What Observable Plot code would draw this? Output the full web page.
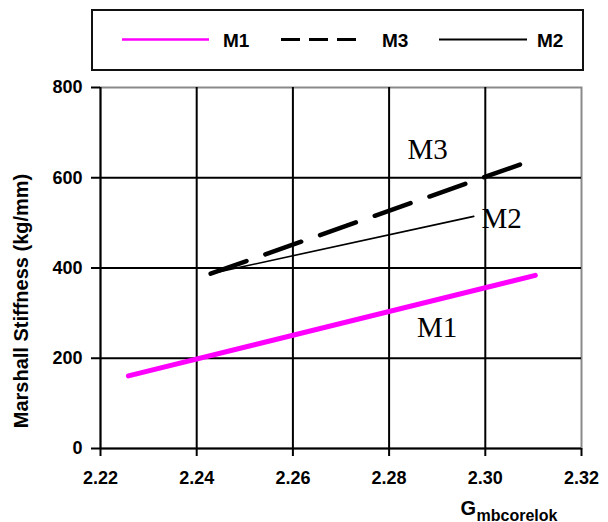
<!DOCTYPE html>
<html>
<head>
<meta charset="utf-8">
<script src="https://cdn.jsdelivr.net/npm/d3@7"></script>
<script src="https://cdn.jsdelivr.net/npm/@observablehq/plot@0.6"></script>
<style>
  html, body { margin: 0; padding: 0; background: #fff; }
  #chart { position: relative; width: 608px; height: 522px; font-family: "Liberation Sans", Arial, sans-serif; }
  #chart > svg.plot { position: absolute; left: 0; top: 0; }
  #legend { position: absolute; left: 0; top: 0; }
</style>
</head>
<body>
<div id="chart"></div>
<script>
// Marshall stiffness versus Gmb (corelok) for three mixes
const mixes = ["M1", "M3", "M2"];
const m1Gmb = [2.2258, 2.3104];
const m1Stiffness = [160.8, 383.7];
const m3Gmb = [2.2429, 2.3073];
const m3Stiffness = [387.5, 629.5];
const m2Gmb = [2.2429, 2.2976];
const m2Stiffness = [387.5, 514.4];

// in-plot series labels (anchor positions in data units)
const labelNames = ["M3", "M2", "M1"];
const labelGmb = [2.2838, 2.2992, 2.2858];
const labelStiffness = [642, 489, 246];

const xTicks = [2.22, 2.24, 2.26, 2.28, 2.30, 2.32];
const yTicks = [0, 200, 400, 600, 800];

const toRows = (name, xs, ys) => xs.map((g, i) => ({mix: name, gmb: g, stiffness: ys[i]}));
const m1 = toRows("M1", m1Gmb, m1Stiffness);
const m3 = toRows("M3", m3Gmb, m3Stiffness);
const m2 = toRows("M2", m2Gmb, m2Stiffness);
const labels = labelNames.map((n, i) => ({name: n, gmb: labelGmb[i], stiffness: labelStiffness[i]}));

const bold = {fontFamily: "Liberation Sans, Arial, sans-serif", fontWeight: "bold"};

const plot = Plot.plot({
  width: 608,
  height: 522,
  marginTop: 87,
  marginBottom: 74,
  marginLeft: 100,
  marginRight: 27,
  style: {background: "transparent", color: "black", fontFamily: "Liberation Sans, Arial, sans-serif"},
  x: {domain: [2.22, 2.32]},
  y: {domain: [0, 800]},
  marks: [
    Plot.frame({stroke: "#8a8a8a", strokeWidth: 2}),
    Plot.gridX(xTicks.slice(1, -1), {stroke: "black", strokeOpacity: 1, strokeWidth: 2}),
    Plot.gridY(yTicks.slice(1, -1), {stroke: "black", strokeOpacity: 1, strokeWidth: 2}),
    Plot.ruleX([xTicks[0]], {stroke: "black", strokeWidth: 2}),
    Plot.ruleY([yTicks[0]], {stroke: "black", strokeWidth: 2}),
    Plot.axisX(xTicks, {
      tickSize: 8, tickPadding: 15, strokeWidth: 2, stroke: "black",
      tickFormat: d3.format(".2f"), fontSize: 18, ...bold, label: null
    }),
    Plot.axisY(yTicks, {
      tickSize: 9, tickPadding: 9, strokeWidth: 2, stroke: "black",
      fontSize: 18, ...bold, label: null
    }),
    Plot.line(m1, {x: "gmb", y: "stiffness", stroke: "#ff00ff", strokeWidth: 5, strokeLinecap: "round"}),
    Plot.line(m2, {x: "gmb", y: "stiffness", stroke: "black", strokeWidth: 1.6}),
    Plot.line(m3, {x: "gmb", y: "stiffness", stroke: "black", strokeWidth: 4.5, strokeDasharray: "38,20"}),
    Plot.text(labels, {
      x: "gmb", y: "stiffness", text: "name", textAnchor: "start", lineAnchor: "bottom",
      fontFamily: "Liberation Serif, Times New Roman, serif", fontSize: 29, fill: "black"
    }),
    // axis titles
    Plot.text(["Marshall Stiffness (kg/mm)"], {
      frameAnchor: "left", rotate: -90, dx: -79, dy: 33,
      textAnchor: "middle", lineAnchor: "middle", fontSize: 20, ...bold, fill: "black"
    }),
    Plot.text(["G"], {
      frameAnchor: "bottom-right", dx: -121, dy: 66,
      textAnchor: "start", lineAnchor: "bottom", fontSize: 20, ...bold, fill: "black"
    }),
    Plot.text(["mbcorelok"], {
      frameAnchor: "bottom-right", dx: -105, dy: 72,
      textAnchor: "start", lineAnchor: "bottom", fontSize: 16, ...bold, fill: "black"
    })
  ]
});
plot.classList.add("plot");
const chart = document.getElementById("chart");
chart.appendChild(plot);

// line-style legend in a framed box above the plot
const legendItems = [
  {name: mixes[0], stroke: "#ff00ff", width: 2.5, dash: null, x0: 122, x1: 209, tx: 223},
  {name: mixes[1], stroke: "black", width: 3, dash: "19,9", x0: 281, x1: 357, tx: 382},
  {name: mixes[2], stroke: "black", width: 2, dash: null, x0: 439, x1: 527, tx: 537}
];
const legend = d3.create("svg").attr("id", "legend").attr("width", 608).attr("height", 80);
legend.append("rect").attr("x", 92).attr("y", 10).attr("width", 491).attr("height", 60)
  .attr("fill", "white").attr("stroke", "#111").attr("stroke-width", 2);
const g = legend.selectAll("g").data(legendItems).join("g");
g.append("line").attr("x1", d => d.x0).attr("x2", d => d.x1).attr("y1", 39.5).attr("y2", 39.5)
  .attr("stroke", d => d.stroke).attr("stroke-width", d => d.width)
  .attr("stroke-dasharray", d => d.dash);
g.append("text").attr("x", d => d.tx).attr("y", 46.5).text(d => d.name)
  .attr("font-family", "Liberation Sans, Arial, sans-serif").attr("font-weight", "bold")
  .attr("font-size", 19).attr("fill", "black");
chart.appendChild(legend.node());
</script>
</body>
</html>
